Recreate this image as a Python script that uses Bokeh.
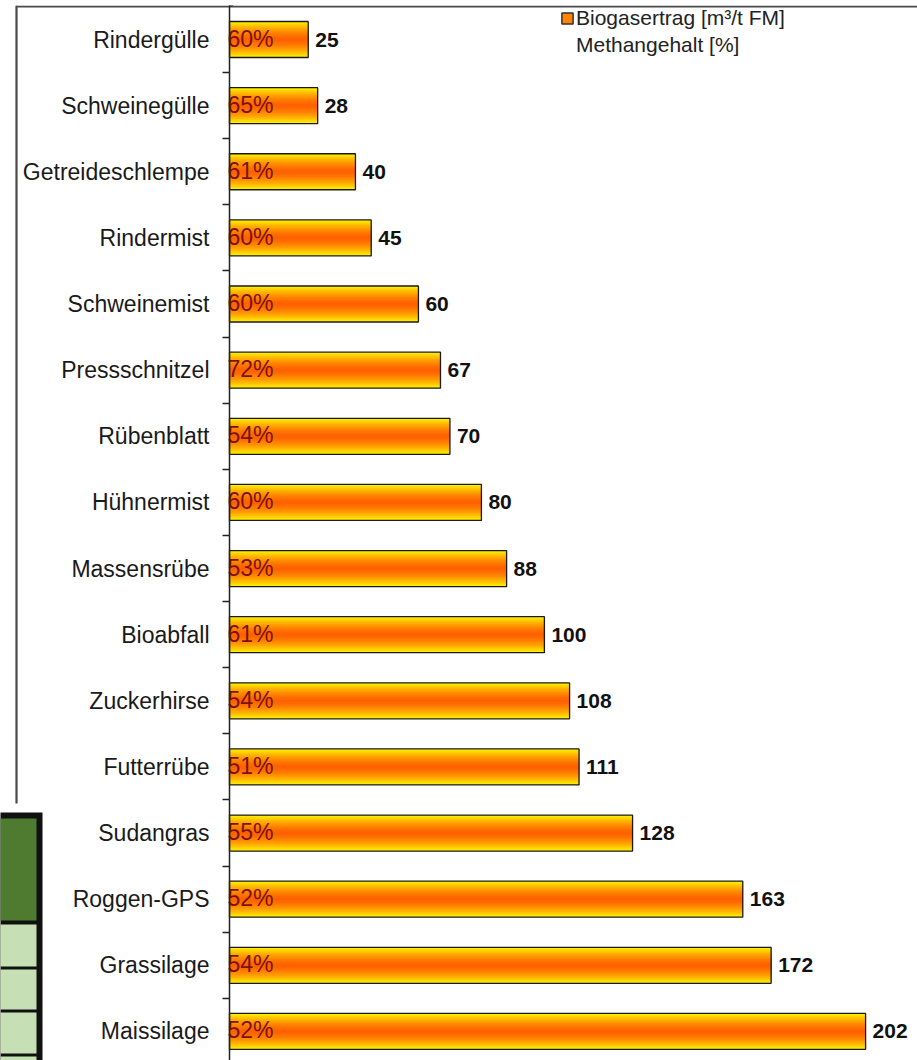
from bokeh.plotting import figure
from bokeh.models import (ColumnDataSource, Range1d, LinearAxis, FixedTicker,
                          CustomJSTickFormatter, Legend, LegendItem)
from bokeh.core.properties import value
from bokeh.embed import file_html
from bokeh.resources import INLINE

# ---------------- data ----------------
categories = ["Rindergülle", "Schweinegülle", "Getreideschlempe", "Rindermist",
              "Schweinemist", "Pressschnitzel", "Rübenblatt", "Hühnermist",
              "Massensrübe", "Bioabfall", "Zuckerhirse", "Futterrübe",
              "Sudangras", "Roggen-GPS", "Grassilage", "Maissilage"]
biogas_yield = [25, 28, 40, 45, 60, 67, 70, 80, 88, 100, 108, 111, 128, 163, 172, 202]
methane_pct = [60, 65, 61, 60, 60, 72, 54, 60, 53, 61, 54, 51, 55, 52, 54, 52]
series_names = ["Biogasertrag [m³/t FM]", "Methangehalt [%]"]

# ---------------- layout ----------------
W, H = 917, 1060
TOP = 5                # pixel row of the chart's top border
AXIS_PX = 229          # pixel column of the value 0
PX_PER_UNIT = 3.149    # pixels per m³/t
ROW_PX = 66.13         # pixels per category
FIRST_ROW_PX = 39      # pixel row of the first category centre
BAR_H = 36 / ROW_PX


def px2x(px):
    return (px - AXIS_PX) / PX_PER_UNIT


def px2y(py):
    return (py - FIRST_ROW_PX) / ROW_PX


n = len(categories)
idx = list(range(n))

p = figure(width=W, height=H,
           x_range=Range1d(px2x(0), px2x(W)),
           y_range=Range1d(start=px2y(H), end=px2y(TOP)),
           output_backend="svg", toolbar_location=None,
           x_axis_location=None, y_axis_location=None,
           min_border=0, min_border_top=TOP, outline_line_color=None,
           background_fill_color="white", border_fill_color="white")
p.xgrid.visible = False
p.ygrid.visible = False

bars = ColumnDataSource(dict(y=idx, right=biogas_yield,
                             pct=[f"{m}%" for m in methane_pct],
                             lab=[str(v) for v in biogas_yield]))

# ---------------- gradient bars (nested layers, yellow edge -> orange core) ----------------
N = 22
yellow = (255, 242, 0)
orange = (255, 96, 0)
for j in range(N):
    t = 1 - j / N                       # relative distance from the bar centre
    tt = t ** 1.5
    col = tuple(int(round(o + (y - o) * tt)) for o, y in zip(orange, yellow))
    p.hbar(y="y", left=0, right="right", height=BAR_H * t,
           fill_color="#%02x%02x%02x" % col, line_color=None, source=bars)

p.hbar(y="y", left=0, right="right", height=BAR_H, fill_color=None,
       line_color="#1a1a1a", line_width=1.3, source=bars)

# percentage labels inside bars
p.text(x=0, y="y", text="pct", source=bars, x_offset=-2, y_offset=-1,
       text_align="left", text_baseline="middle",
       text_font=value("Liberation Sans"), text_font_size="23px",
       text_color="#7a1400")

# value labels
p.text(x="right", y="y", text="lab", source=bars, x_offset=7,
       text_align="left", text_baseline="middle",
       text_font=value("Liberation Sans"), text_font_size="21px",
       text_font_style="bold", text_color="#111111")

# ---------------- category axis ----------------
ax = LinearAxis(fixed_location=0,
                ticker=FixedTicker(ticks=idx,
                                   minor_ticks=[i + 0.5 for i in range(0, n)]),
                formatter=CustomJSTickFormatter(args=dict(labels=categories),
                                                code="const i = Math.round(tick); return (i >= 0 && i < labels.length) ? labels[i] : '';"))
ax.major_tick_out = 0
ax.major_tick_in = 0
ax.minor_tick_out = 7
ax.minor_tick_in = 0
ax.minor_tick_line_color = "#222222"
ax.minor_tick_line_width = 1.5
ax.axis_line_color = "#222222"
ax.axis_line_width = 1.5
ax.major_label_standoff = 13
ax.major_label_text_font = "Liberation Sans"
ax.major_label_text_font_size = "23px"
ax.major_label_text_color = "#1a1a1a"
p.add_layout(ax, "left")

# ---------------- surrounding frame and page table fragment ----------------
p.segment(x0=[px2x(16), px2x(16)], y0=[px2y(6), px2y(5)],
          x1=[px2x(W), px2x(16)], y1=[px2y(6), px2y(803)],
          line_color="#4a4a4a", line_width=2.2)

p.quad(left=[px2x(-5)], right=[px2x(42)], top=[px2y(812)], bottom=[px2y(H + 10)],
       fill_color="#111111", line_color=None)
p.quad(left=[px2x(-5)], right=[px2x(36)], top=[px2y(818)], bottom=[px2y(920)],
       fill_color="#4e7b30", line_color=None)
p.quad(left=[px2x(-5)] * 4, right=[px2x(36)] * 4,
       top=[px2y(924), px2y(969), px2y(1012), px2y(1056)],
       bottom=[px2y(966), px2y(1009), px2y(1053), px2y(H + 10)],
       fill_color="#c6dfb4", line_color=None)

# ---------------- legend ----------------
leg_src = ColumnDataSource(dict(y=[-100], right=[1]))
r1 = p.hbar(y="y", right="right", left=0, height=0.5, source=leg_src,
            fill_color="#ff8400", line_color="#333333", line_width=1.5)
r2 = p.scatter(x=[0], y=[-100], fill_alpha=0, line_alpha=0)
legend = Legend(items=[LegendItem(label=series_names[0], renderers=[r1]),
                       LegendItem(label=series_names[1], renderers=[r2])],
                location=(560, H - 57), glyph_width=14, glyph_height=14,
                label_standoff=2, padding=0, spacing=2, margin=0,
                border_line_color=None, background_fill_alpha=0,
                label_text_font="Liberation Sans", label_text_font_size="21px",
                label_text_color="#222222", label_height=25)
p.add_layout(legend)

open("out.html", "w").write(file_html(p, INLINE))
